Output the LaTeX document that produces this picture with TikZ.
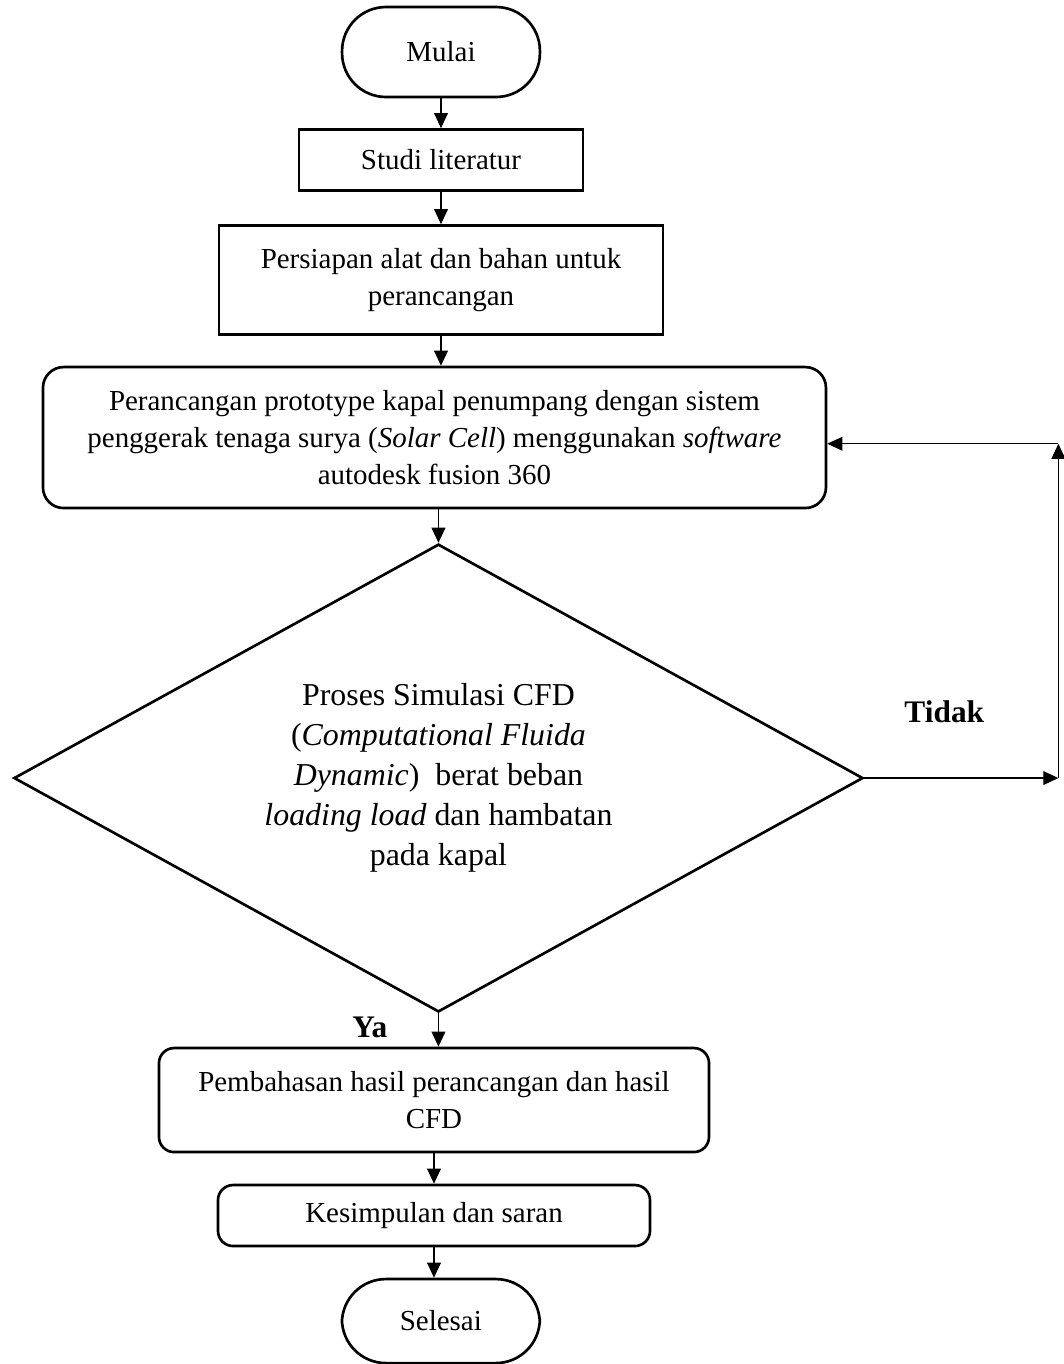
\documentclass[tikz,border=0pt]{standalone}
\usepackage{fontspec}
\setmainfont{Liberation Serif}
\usepackage{tikz}
\usetikzlibrary{arrows.meta,shapes.geometric}
\tikzstyle{terminal} = [rectangle, draw, line width = 1.1pt, rounded corners = 0.64cm, minimum width = 2.88cm, text centered, font = \fontsize{12}{15.5}\selectfont]
\tikzstyle{block} = [rectangle, draw, line width = 1.1pt, align = center, font = \fontsize{12}{15.5}\selectfont]
\tikzstyle{blockRound} = [block, rounded corners = 0.22cm]
\tikzstyle{decision} = [diamond, draw, line width = 1.1pt, align = center, inner sep = 0pt, aspect = 1.815, minimum width = 12.36cm, minimum height = 6.81cm, font = \fontsize{13.2}{16.6}\selectfont]
\tikzstyle{answer} = [font = \fontsize{13}{15}\selectfont\bfseries]
\tikzstyle{line} = [line width = 0.6pt, -{Triangle[length = 0.22cm, width = 0.2cm]}]

\begin{document}
\begin{tikzpicture}
        \useasboundingbox (0,0) rectangle (15.473,-19.854);
        \node(Mulai) [terminal, minimum height = 1.31cm] at (6.419,-0.757) {Mulai};
        \node(Studi) [block, below of = Mulai, node distance = 1.572cm, minimum width = 4.134cm, minimum height = 0.888cm] {Studi literatur};
        \node(Persiapan) [block, below of = Studi, node distance = 1.747cm, minimum width = 6.463cm, minimum height = 1.587cm] {Persiapan alat dan bahan untuk\\perancangan};
        \node(Perancangan) [blockRound, below of = Persiapan, node distance = 2.293cm, xshift = -0.095cm, minimum width = 11.397cm, minimum height = 2.052cm, rounded corners = 0.3cm] {Perancangan prototype kapal penumpang dengan sistem\\penggerak tenaga surya (\textit{Solar Cell}) menggunakan \textit{software}\\autodesk fusion 360};
        \node(Simulasi) [decision, below of = Perancangan, node distance = 4.956cm, xshift = 0.058cm] {Proses Simulasi CFD\\(\textit{Computational Fluida}\\\textit{Dynamic})\ \ berat beban\\\textit{loading load} dan hambatan\\pada kapal};
        \node(Pembahasan) [blockRound, below of = Simulasi, node distance = 4.687cm, xshift = -0.065cm, minimum width = 8.006cm, minimum height = 1.514cm] {Pembahasan hasil perancangan dan hasil\\CFD};
        \node(Kesimpulan) [blockRound, below of = Pembahasan, node distance = 1.681cm, minimum width = 6.288cm, minimum height = 0.888cm] {Kesimpulan dan saran};
        \node(Selesai) [terminal, below of = Kesimpulan, node distance = 1.536cm, xshift = 0.1cm, minimum height = 1.223cm] {Selesai};
        \coordinate (rightofSimulasi) at ([xshift = 2.824cm]Simulasi.east);
        \coordinate (aboveofSimulasi) at ([yshift = -0.09cm]rightofSimulasi |- Perancangan.east);
        \node(Tidak) [answer] at ([xshift = -1.66cm, yshift = 0.96cm]rightofSimulasi) {Tidak};
        \node(Ya) [answer] at ([xshift = -1.0cm, yshift = -0.2cm]Simulasi.south) {Ya};
        \draw[line] (Mulai.south) -- (Mulai.south |- Studi.north);
        \draw[line] (Studi.south) -- (Studi.south |- Persiapan.north);
        \draw[line] (Persiapan.south) -- (Persiapan.south |- Perancangan.north);
        \draw[line] (Perancangan.south -| Simulasi.north) -- (Simulasi.north);
        \draw[line] (Simulasi.south) -- (Simulasi.south |- Pembahasan.north);
        \draw[line] (Pembahasan.south -| Kesimpulan.north) -- (Kesimpulan.north);
        \draw[line] (Kesimpulan.south) -- (Kesimpulan.south |- Selesai.north);
        % loop back when the simulation fails
        \draw[line] (Simulasi.east) -- (rightofSimulasi);
        \draw[line] (rightofSimulasi) -- (aboveofSimulasi);
        \draw[line] (aboveofSimulasi) -- (aboveofSimulasi -| Perancangan.east);
    \end{tikzpicture}
\end{document}
